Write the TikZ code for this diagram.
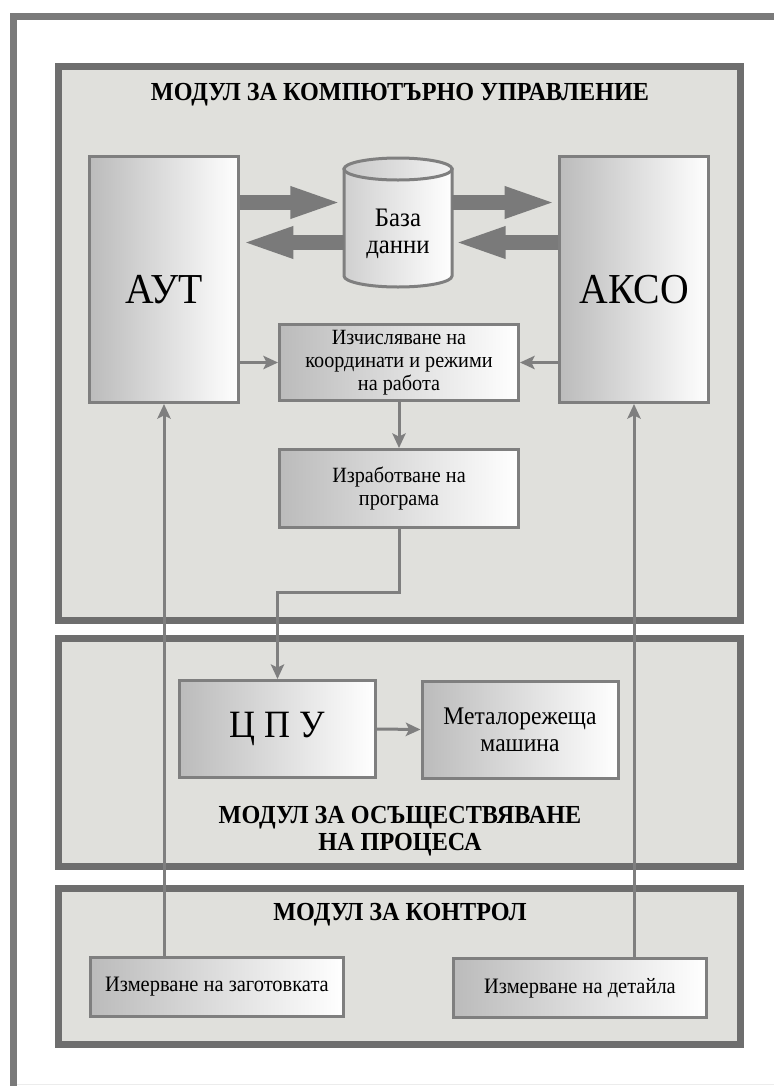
\documentclass[tikz,border=0pt]{standalone}
\usepackage{fontspec}
\setmainfont{Liberation Serif}[FakeStretch=0.93]
\usetikzlibrary{arrows.meta}
\definecolor{FrameGray}{HTML}{7A7A7A}
\definecolor{PanelGray}{HTML}{E0E0DC}
\definecolor{PanelEdge}{HTML}{6E6E6E}
\definecolor{BoxEdge}{HTML}{7F7F7F}
\definecolor{BoxShade}{HTML}{BBBBBB}
\definecolor{RuleGray}{HTML}{ECECEC}

\begin{document}
\begin{tikzpicture}[x=0.75pt, y=-0.75pt,
  every node/.style={font=\fontsize{16.3}{17.25}\selectfont, align=center, inner sep=0pt},
  panel/.style={fill=PanelGray, draw=PanelEdge, line width=5.25pt},
  box/.style={draw=BoxEdge, line width=2.25pt, shading=axis, left color=BoxShade, right color=white},
  bigtext/.style={font=\fontsize{32}{34}\selectfont},
  title/.style={font=\bfseries\fontsize{19.5}{20.25}\selectfont},
  link/.style={draw=BoxEdge, line width=2.25pt, -{Stealth[length=11pt, width=10pt, inset=2.5pt]}},
  wide/.style={draw=FrameGray, line width=11.25pt, -{Triangle[length=40pt, width=21pt]}}]
  \fill[white] (0,0) rectangle (774,1086);
  \useasboundingbox (0,0) rectangle (774,1086);
  \draw[FrameGray, line width=5.25pt] (780,16.5) -- (13.5,16.5) -- (13.5,1092);
  \draw[RuleGray, line width=0.75pt] (17,1084) -- (774,1084);
  \draw[panel] (58.5,66.5) rectangle (740.5,620);
  \draw[panel] (58.5,638.5) rectangle (740.5,866.5);
  \draw[panel] (58.5,888.5) rectangle (740.5,1044.5);

  \node[title] (ttop) at (400,95) {МОДУЛ ЗА КОМПЮТЪРНО УПРАВЛЕНИЕ};
  \node[title] (tmid) at (400,831.5) {МОДУЛ ЗА ОСЪЩЕСТВЯВАНЕ\\НА ПРОЦЕСА};
  \node[title] (tbot) at (400,915) {МОДУЛ ЗА КОНТРОЛ};

  \node[box, minimum width=111.75pt, minimum height=184.5pt,
    label={[bigtext, yshift=-7.9pt]center:АУТ}] (aut) at (164,279.5) {};
  \node[box, minimum width=111.75pt, minimum height=184.5pt,
    label={[bigtext, yshift=-7.9pt]center:АКСО}] (akso) at (634,279.5) {};

  \shade[left color=BoxShade!70, right color=white, draw=BoxEdge, line width=2.25pt]
    (344,169) -- (344,276) arc[start angle=180, end angle=0, x radius=54, y radius=11] -- (452,169) -- cycle;
  \shade[left color=BoxShade!80, right color=white!95!black, draw=BoxEdge, line width=2.25pt]
    (398,169) ellipse [x radius=54, y radius=11];
  \node[minimum width=81pt, minimum height=96.75pt,
    label={[font=\fontsize{20}{20.25}\selectfont, yshift=-8.25pt]center:База\\данни}] (db) at (398,222.5) {};

  \node[box, minimum width=179.25pt, minimum height=57pt] (calc) at (399,362.5)
    {Изчисляване на\\координати и режими\\на работа};
  \node[box, minimum width=179.25pt, minimum height=58.5pt] (prog) at (399,488.5)
    {Изработване на\\програма};
  \node[box, font=\fontsize{29}{30}\selectfont, minimum width=147pt, minimum height=72.75pt] (cpu) at (277.5,729) {Ц П У};
  \node[box, font=\fontsize{19}{20.25}\selectfont, minimum width=147pt, minimum height=72.75pt] (mach) at (520,729.5)
    {Металорежеща\\машина};
  \node[box, font=\fontsize{16.5}{18}\selectfont, minimum width=189.75pt, minimum height=44.25pt] (mzag) at (217,987)
    {Измерване на заготовката};
  \node[box, font=\fontsize{16.5}{18}\selectfont, minimum width=189.75pt, minimum height=44.25pt] (mdet) at (580,988)
    {Измерване на детайла};

  \draw[wide] ([yshift=57.75pt]aut.east) -- ([yshift=15pt]db.west);
  \draw[wide] ([yshift=15pt]db.east) -- ([yshift=57.75pt]akso.west);
  \draw[wide] ([yshift=-15pt]db.west) -- ([yshift=27.75pt]aut.east);
  \draw[wide] ([yshift=27.75pt]akso.west) -- ([yshift=-15pt]db.east);

  \draw[link] (calc.west -| aut.east) -- (calc.west);
  \draw[link] (calc.east -| akso.west) -- (calc.east);
  \draw[link] (calc.south) -- (prog.north);
  \draw[link] (prog.south) -- ++(0,63) -| (cpu.north);
  \draw[link] (cpu.east) -- (mach.west);
  \draw[link] (mzag.north -| aut.south) -- (aut.south);
  \draw[link] (mdet.north -| akso.south) -- (akso.south);
\end{tikzpicture}
\end{document}
